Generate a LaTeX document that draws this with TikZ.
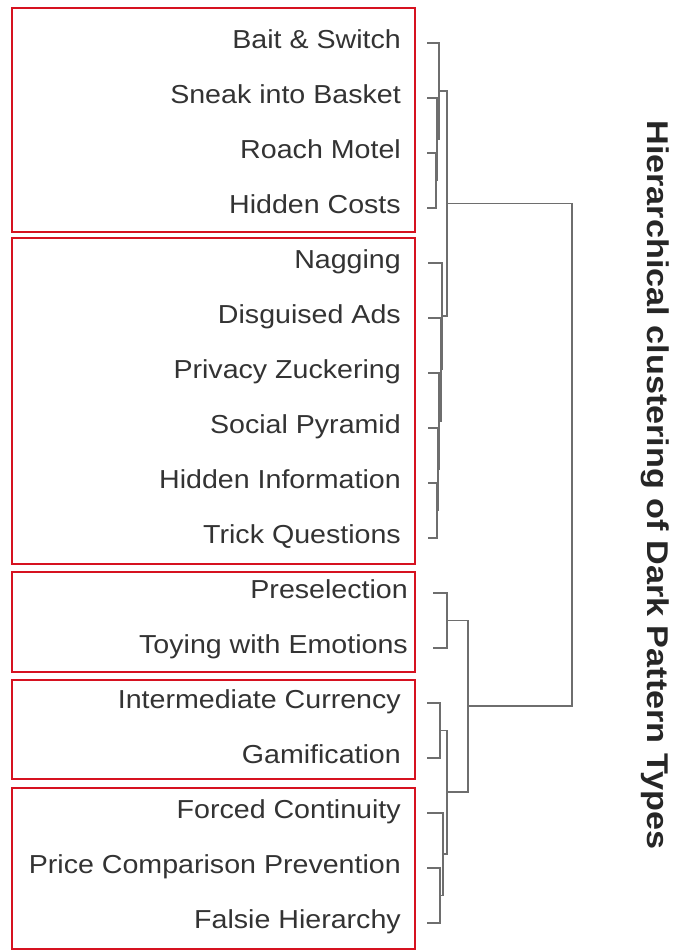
\documentclass[tikz,border=0pt]{standalone}
\usepackage{fontspec}
\setmainfont{Liberation Sans}
\newfontfamily\lblfont[FakeStretch=1.1]{Liberation Sans}
\newfontfamily\ttlfont[FakeStretch=1.14]{Liberation Sans}
\definecolor{boxred}{RGB}{214,18,32}
\definecolor{dgray}{RGB}{110,110,110}
\tikzset{
  lbl/.style={anchor=base east, inner sep=0, text=black!80, font=\lblfont\fontsize{26}{30}\selectfont},
  ttl/.style={anchor=base, inner sep=0, text=black!85, font=\ttlfont\bfseries\fontsize{30}{34}\selectfont},
  grp/.style={draw=boxred, line width=2.4pt},
  dendro/.style={draw=dgray, line width=1.5pt},
}

\begin{document}
\begin{tikzpicture}[x=1pt, y=-1pt]
\useasboundingbox (0,0) rectangle (677,951);
% leaf labels and tick starts
\foreach \lab/\lx/\tx [count=\i] in {Bait \& Switch/401/427, Sneak into Basket/401/427, Roach Motel/401/427, Hidden Costs/401/427,
  Nagging/401/428, Disguised Ads/401/428, Privacy Zuckering/401/428, Social Pyramid/401/428, Hidden Information/401/428, Trick Questions/401/428,
  Preselection/408/433, Toying with Emotions/408/433, Intermediate Currency/401/427, Gamification/401/427,
  Forced Continuity/401/427, Price Comparison Prevention/401/427, Falsie Hierarchy/401/427} {
 \node[lbl] (l\i) at (\lx,{43+55*(\i-1)+5.5}) {\lab};
 \coordinate (t\i) at (\tx,{43+55*(\i-1)});
}
% groups
\foreach \ya/\yb in {8/232, 238/564, 572/672, 680/779, 788/949} {
 \draw[grp] (12,\ya) rectangle (415,\yb);
}
% merge points
\coordinate (m34) at (436,180.5);
\coordinate (m234) at (437,139.25);
\coordinate (mA) at (439,91);
\coordinate (m910) at (437,510.5);
\coordinate (m810) at (438,469);
\coordinate (m710) at (439,421);
\coordinate (m610) at (441,369.5);
\coordinate (mB) at (442,316);
\coordinate (mTop) at (447,203.5);
\coordinate (mC) at (447,620.5);
\coordinate (mD) at (440,730.5);
\coordinate (mE2) at (440,895.5);
\coordinate (mE) at (443,854);
\coordinate (mDE) at (447,792);
\coordinate (mCDE) at (468,706);
\coordinate (root) at (572,455);
% dendrogram
\draw[dendro] (t3) -| (m34) |- (t4);
\draw[dendro] (t2) -| (m234) |- (m34);
\draw[dendro] (t1) -| (mA) |- (m234);
\draw[dendro] (t9) -| (m910) |- (t10);
\draw[dendro] (t8) -| (m810) |- (m910);
\draw[dendro] (t7) -| (m710) |- (m810);
\draw[dendro] (t6) -| (m610) |- (m710);
\draw[dendro] (t5) -| (mB) |- (m610);
\draw[dendro] (mA) -| (mTop) |- (mB);
\draw[dendro] (t11) -| (mC) |- (t12);
\draw[dendro] (t13) -| (mD) |- (t14);
\draw[dendro] (t16) -| (mE2) |- (t17);
\draw[dendro] (t15) -| (mE) |- (mE2);
\draw[dendro] (mD) -| (mDE) |- (mE);
\draw[dendro] (mC) -| (mCDE) |- (mDE);
\draw[dendro] (mTop) -| (root) |- (mCDE);
% title
\node[ttl, rotate=-90] (title) at (647,485) {Hierarchical clustering of Dark Pattern Types};
\end{tikzpicture}
\end{document}
